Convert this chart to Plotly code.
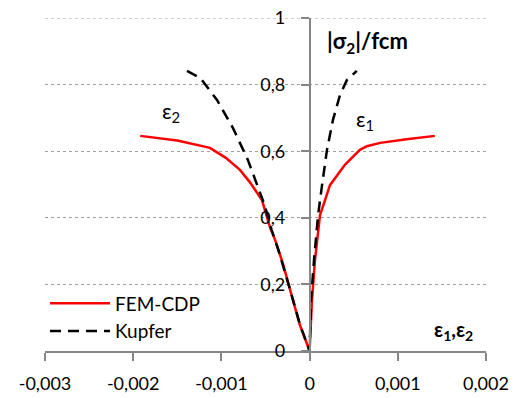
import plotly.graph_objects as go

# FEM-CDP curve (eps2 branch from top to origin, then eps1 branch from origin to top)
fem_x = [-0.00192, -0.00150, -0.00113, -0.00095, -0.00079, -0.00068, -0.00054, -0.00045,
         -0.00039, -0.00030, -0.00022, -0.00011, 0.0,
         0.000027, 0.000061, 0.000118, 0.000175, 0.000231, 0.00040, 0.00057, 0.00065, 0.00080,
         0.00110, 0.00142]
fem_y = [0.646, 0.632, 0.610, 0.580, 0.544, 0.508, 0.453, 0.372,
         0.333, 0.260, 0.183, 0.078, 0.0,
         0.153, 0.273, 0.408, 0.453, 0.498, 0.559, 0.604, 0.615, 0.625,
         0.636, 0.646]

# Kupfer curve
kup_x = [-0.00139, -0.00124, -0.00105, -0.00087, -0.00070, -0.00059, -0.00051, -0.00043,
         -0.00035, -0.00022, -0.00011, 0.0,
         0.000016, 0.00005, 0.000096, 0.000141, 0.000197, 0.000265, 0.000345, 0.000423, 0.000535]
kup_y = [0.841, 0.820, 0.754, 0.670, 0.574, 0.498, 0.438, 0.363,
         0.300, 0.183, 0.080, 0.0,
         0.153, 0.273, 0.408, 0.498, 0.604, 0.694, 0.769, 0.814, 0.841]

x_tickvals = [-0.003, -0.002, -0.001, 0.0, 0.001, 0.002]
x_ticktext = ["-0,003", "-0,002", "-0,001", "0", "0,001", "0,002"]
y_tickvals = [0, 0.2, 0.4, 0.6, 0.8, 1.0]
y_ticktext = ["0", "0,2", "0,4", "0,6", "0,8", "1"]

FONT = "Lato"
AXIS_COLOR = "#868686"
GRID_COLOR = "#A0A0A0"

fig = go.Figure()
fig.add_trace(go.Scatter(x=fem_x, y=fem_y, mode="lines", name="FEM-CDP",
                         line=dict(color="#FF0000", width=2.5)))
fig.add_trace(go.Scatter(x=kup_x, y=kup_y, mode="lines", name="Kupfer",
                         line=dict(color="#000000", width=2.5, dash="11px,7px")))

x_min, x_max = -0.003, 0.002

# top gridline (plotly omits the gridline at the range edge)
fig.add_shape(type="line", xref="paper", yref="y", x0=0, x1=1,
              y0=y_tickvals[-1], y1=y_tickvals[-1], layer="below",
              line=dict(color=GRID_COLOR, width=1, dash="dot"))

# page body adds an 8px offset, so the figure is sized/margined to compensate
fig.update_layout(
    width=511, height=390,
    margin=dict(l=37, r=33, t=10, b=47, autoexpand=False),
    plot_bgcolor="white", paper_bgcolor="white",
    font=dict(family=FONT, size=18, color="#000000"),
    showlegend=True,
    legend=dict(x=0.0, y=0.2, xanchor="left", yanchor="top",
                bgcolor="rgba(0,0,0,0)", font=dict(family=FONT, size=19),
                itemwidth=60, tracegroupgap=2),
    xaxis=dict(range=[x_min, x_max], tickvals=x_tickvals, ticktext=x_ticktext,
               showgrid=False, zeroline=False, showline=True, linecolor=AXIS_COLOR,
               linewidth=1.5, ticks="outside", ticklen=8, tickcolor=AXIS_COLOR,
               tickwidth=1.5, ticklabelstandoff=8, anchor="y", automargin=False,
               ticklabeloverflow="allow", tickfont=dict(size=18)),
    yaxis=dict(range=[0, 1], tickvals=y_tickvals, ticktext=y_ticktext,
               showgrid=True, gridcolor=GRID_COLOR, griddash="dot", gridwidth=1,
               zeroline=False, showline=True, linecolor=AXIS_COLOR, linewidth=1.5,
               ticks="outside", ticklen=8, tickcolor=AXIS_COLOR, tickwidth=1.5,
               anchor="free", position=(0 - x_min) / (x_max - x_min),
               ticklabelstandoff=12, automargin=False, ticklabeloverflow="allow",
               tickfont=dict(size=18)),
    annotations=[
        dict(x=0.000178, y=0.928, xref="x", yref="y", xanchor="left", yanchor="middle",
             text="<b>|σ<sub>2</sub>|/fcm</b>", showarrow=False, font=dict(size=22)),
        dict(x=0.001875, y=0.063, xref="x", yref="y", xanchor="right", yanchor="middle",
             text="<b>ε<sub>1</sub>,ε<sub>2</sub></b>", showarrow=False, font=dict(size=20)),
        dict(x=-0.0017, y=0.718, xref="x", yref="y", xanchor="left", yanchor="middle",
             text="ε<sub>2</sub>", showarrow=False, font=dict(size=21)),
        dict(x=0.0005, y=0.694, xref="x", yref="y", xanchor="left", yanchor="middle",
             text="ε<sub>1</sub>", showarrow=False, font=dict(size=21)),
    ],
)

fig.write_html("out.html")
